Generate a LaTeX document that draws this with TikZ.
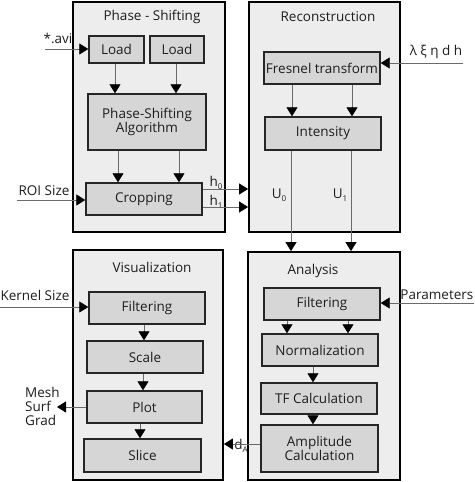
\documentclass[tikz,border=0pt]{standalone}
\usepackage{fontspec}
\setmainfont{Open Sans}
\usetikzlibrary{arrows.meta}
\definecolor{panelfill}{HTML}{EDEDED}
\definecolor{boxfill}{HTML}{D6D6D6}
\definecolor{linegray}{HTML}{6A6A6A}
\definecolor{txt}{HTML}{1E1E1E}
\newcommand\mysub[1]{\raisebox{-2.5pt}{\fontsize{8}{8}\selectfont #1}}
\begin{document}
\begin{tikzpicture}[x=1pt,y=-1pt,
  font=\fontsize{13.5}{15}\selectfont, text=txt,
  panel/.style={draw=black, line width=1.8pt, fill=panelfill, inner sep=0pt},
  blk/.style={draw=black!85, line width=1.4pt, fill=boxfill, inner sep=0pt, align=center},
  lbl/.style={inner sep=0pt},
  conn/.style={draw=linegray, line width=0.8pt, -{Triangle[length=9pt,width=11pt,color=black]}}]
\useasboundingbox[fill=white] (0,0) rectangle (474,482);
% panels
\node[panel, minimum width=152pt, minimum height=230pt] (pps) at (149,117) {};
\node[panel, minimum width=151pt, minimum height=230pt] (prc) at (324.5,117) {};
\node[panel, minimum width=150pt, minimum height=230pt] (pvi) at (148,365) {};
\node[panel, minimum width=152pt, minimum height=228pt] (pan) at (324,366) {};
% titles
\node[lbl] (tps) at (152,17) {Phase - Shifting};
\node[lbl] (trc) at (328,17) {Reconstruction};
\node[lbl] (tvi) at (152,267) {Visualization};
\node[lbl] (tan) at (313,271) {Analysis};
% phase-shifting boxes
\node[blk, minimum width=55pt, minimum height=27pt] (load1) at (116.5,49.5) {Load};
\node[blk, minimum width=54pt, minimum height=27pt] (load2) at (177,49.5) {Load};
\node[blk, minimum width=118pt, minimum height=56pt] (psa) at (147,122) {Phase-Shifting\\[-1pt]Algorithm};
\node[blk, minimum width=116pt, minimum height=32pt] (crop) at (144,199) {Cropping};
% reconstruction boxes
\node[blk, minimum width=116pt, minimum height=32pt] (fres) at (322,68) {Fresnel transform};
\node[blk, minimum width=116pt, minimum height=33pt] (inten) at (323,133.5) {Intensity};
% visualization boxes
\node[blk, minimum width=116pt, minimum height=32pt] (vfilt) at (147,308) {Filtering};
\node[blk, minimum width=116pt, minimum height=32pt] (scale) at (145,357) {Scale};
\node[blk, minimum width=115pt, minimum height=32pt] (plot) at (144.5,407) {Plot};
\node[blk, minimum width=117pt, minimum height=33pt] (slice) at (142.5,455.5) {Slice};
% analysis boxes
\node[blk, minimum width=116pt, minimum height=32pt] (afilt) at (322,304) {Filtering};
\node[blk, minimum width=116pt, minimum height=32pt] (norm) at (320,350) {Normalization};
\node[blk, minimum width=116pt, minimum height=31pt] (tf) at (319,398.5) {TF Calculation};
\node[blk, minimum width=117pt, minimum height=47pt] (amp) at (319.5,448.5) {Amplitude\\[-1pt]Calculation};
% free ends
\coordinate (aviin) at (45,49);
\coordinate (roiin) at (17,200);
\coordinate (lamin) at (463,63);
\coordinate (parin) at (474,303);
\coordinate (kerin) at (0,307);
\coordinate (meshout) at (57,407);
% outer labels
\node[lbl] (lavi) at (58,38) {*.avi};
\node[lbl] (lroi) at (44,191) {ROI Size};
\node[lbl] (lh0) at (216,183) {h\mysub{0}};
\node[lbl] (lh1) at (216,202) {h\mysub{1}};
\node[lbl] (llam) at (436,52) {λ ξ η d h};
\node[lbl] (lu0) at (279,195) {U\mysub{0}};
\node[lbl] (lu1) at (340,195) {U\mysub{1}};
\node[lbl, anchor=east] (lpar) at (473.5,295) {Parameters};
\node[lbl] (lker) at (35,295) {Kernel Size};
\node[lbl, align=left, anchor=west] (lmesh) at (25,406) {Mesh\\[-1pt]Surf\\[-1pt]Grad};
\node[lbl] (lda) at (241,446) {d\mysub{A}};
% connectors: phase-shifting
\draw[conn] (aviin) -- (load1.west |- aviin);
\draw[conn] ([xshift=-1.5pt]load1.south) -- ([xshift=-1.5pt]load1.south |- psa.north);
\draw[conn] ([xshift=-1pt]load2.south) -- ([xshift=-1pt]load2.south |- psa.north);
\draw[conn] ([xshift=-29pt]psa.south) -- ([xshift=-29pt]psa.south |- crop.north);
\draw[conn] ([xshift=32pt]psa.south) -- ([xshift=32pt]psa.south |- crop.north);
\draw[conn] (roiin) -- (crop.west |- roiin);
\draw[conn] ([yshift=-8pt]crop.east) -- ([yshift=-8pt]crop.east -| prc.west);
\draw[conn] ([yshift=10pt]crop.east) -- ([yshift=10pt]crop.east -| prc.west);
% reconstruction
\draw[conn] (lamin) -- (fres.east |- lamin);
\draw[conn] ([xshift=-30pt]fres.south) -- ([xshift=-30pt]fres.south |- inten.north);
\draw[conn] ([xshift=30pt]fres.south) -- ([xshift=30pt]fres.south |- inten.north);
\draw[conn] ([xshift=-32pt]inten.south) -- ([xshift=-32pt]inten.south |- pan.north);
\draw[conn] ([xshift=28pt]inten.south) -- ([xshift=28pt]inten.south |- pan.north);
% analysis
\draw[conn] (parin) -- (afilt.east |- parin);
\draw[conn] ([xshift=-35pt]afilt.south) -- ([xshift=-35pt]afilt.south |- norm.north);
\draw[conn] ([xshift=26pt]afilt.south) -- ([xshift=26pt]afilt.south |- norm.north);
\draw[conn] ([xshift=-7pt]norm.south) -- ([xshift=-7pt]norm.south |- tf.north);
\draw[conn] ([xshift=-6pt]tf.south) -- ([xshift=-6pt]tf.south |- amp.north);
\draw[conn] ([yshift=4.5pt]amp.west) -- ([yshift=4.5pt]amp.west -| pvi.east);
% visualization
\draw[conn] (kerin) -- (vfilt.west |- kerin);
\draw[conn] ([xshift=-3pt]vfilt.south) -- ([xshift=-3pt]vfilt.south |- scale.north);
\draw[conn] ([xshift=-2pt]scale.south) -- ([xshift=-2pt]scale.south |- plot.north);
\draw[conn] ([xshift=-4.5pt]plot.south) -- ([xshift=-4.5pt]plot.south |- slice.north);
\draw[conn] (plot.west) -- (meshout);
\end{tikzpicture}
\end{document}
